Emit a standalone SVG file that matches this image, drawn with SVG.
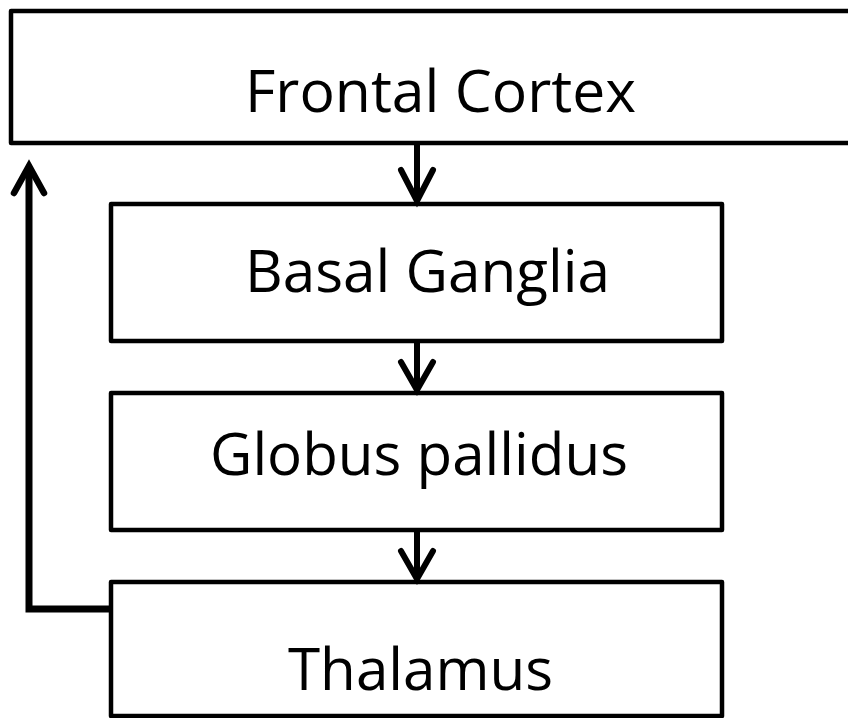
<svg xmlns="http://www.w3.org/2000/svg" width="848" height="718" viewBox="0 0 848 718">
<style>
.box{fill:#fff;stroke:#000;stroke-width:4.5;stroke-linejoin:round}
.lbl{font-family:"Open Sans","Noto Sans","Liberation Sans",sans-serif;font-size:58px;fill:#000;text-anchor:start}
.conn{fill:none;stroke:#000;stroke-width:6}
.head{fill:none;stroke:#000;stroke-width:6;stroke-linecap:round;stroke-linejoin:miter}
</style>
<rect width="848" height="718" fill="#fff"/>
<g id="frontal-cortex">
<rect class="box" x="11" y="11" width="860" height="132"/>
<text class="lbl" x="245" y="112" textLength="391" lengthAdjust="spacingAndGlyphs">Frontal Cortex</text>
</g>
<g id="basal-ganglia">
<rect class="box" x="111" y="204" width="611" height="137"/>
<text class="lbl" x="245" y="292" textLength="365" lengthAdjust="spacingAndGlyphs">Basal Ganglia</text>
</g>
<g id="globus-pallidus">
<rect class="box" x="111" y="393" width="611" height="137"/>
<text class="lbl" x="210" y="475" textLength="418" lengthAdjust="spacingAndGlyphs">Globus pallidus</text>
</g>
<g id="thalamus">
<rect class="box" x="111" y="582" width="611" height="134"/>
<text class="lbl" x="288" y="690" textLength="265" lengthAdjust="spacingAndGlyphs">Thalamus</text>
</g>
<g id="connectors">
<line class="conn" x1="417" y1="143" x2="417" y2="198"/>
<polyline class="head" points="401,170 417,201 433,170"/>
<line class="conn" x1="417" y1="341" x2="417" y2="388"/>
<polyline class="head" points="401,362 417,390 433,362"/>
<line class="conn" x1="417" y1="530" x2="417" y2="577"/>
<polyline class="head" points="401,551 417,579 433,551"/>
<polyline class="conn" style="stroke-width:7" points="111,609 29,609 29,168"/>
<polyline class="head" style="stroke-width:6.5" points="14,193 29,166 44,193"/>
</g>
</svg>
